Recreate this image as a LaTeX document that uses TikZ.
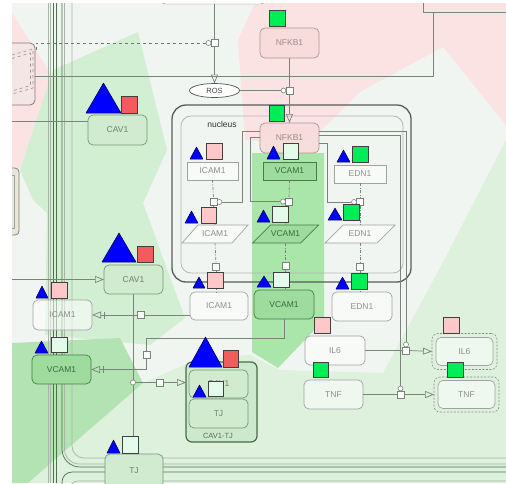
\documentclass[tikz,border=0pt]{standalone}
\usepackage{fontspec}
\setmainfont{Liberation Sans}
\usetikzlibrary{arrows.meta,calc,shapes.geometric}
\definecolor{bgbase}{HTML}{F1F5F1}
\definecolor{bgpink}{HTML}{FCE3E3}
\definecolor{bgga}{HTML}{D3EFD3}
\definecolor{bggb}{HTML}{B3E3B3}
\definecolor{bggc}{HTML}{DDF1DD}
\definecolor{bgcol}{HTML}{AAE5AA}
\definecolor{lnc}{HTML}{7A857A}
\definecolor{darkc}{HTML}{4F6F4F}
\definecolor{lightc}{HTML}{A9B5A9}
\definecolor{txtg}{HTML}{8E8E8E}
\definecolor{txtdg}{HTML}{3E6A3E}
\definecolor{txtp}{HTML}{A08C8C}
\definecolor{txtcav}{HTML}{6A826A}
\definecolor{nodegray}{HTML}{A2A2A2}
\definecolor{greenbd}{HTML}{4A7A4A}
\definecolor{greenfill}{HTML}{9DDC9D}
\definecolor{pinkbd}{HTML}{B09494}
\definecolor{pinkfill}{HTML}{F8DADA}
\definecolor{cavbd}{HTML}{779777}
\definecolor{cavfill}{HTML}{D0EBD0}
\definecolor{sqpink}{HTML}{FFC8C8}
\definecolor{sqred}{HTML}{F25C5C}
\definecolor{sqgreen}{HTML}{00EE55}
\definecolor{sqpale}{HTML}{E4FBEC}
\definecolor{triblue}{HTML}{0000FF}
\newcommand{\mytri}[4]{\filldraw[trist] (#1,#4) -- (#3,#4) -- ({(#1+#3)/2},#2) -- cycle;}
\newcommand{\mysq}[5]{\filldraw[sqst,fill=#5] (#1,#2) rectangle (#3,#4);}
\begin{document}
\begin{tikzpicture}[x=1pt,y=-1pt,
 base/.style={inner sep=0pt, outer sep=0pt, font=\fontsize{8.5}{10}\selectfont, text opacity=1},
 sz/.style 2 args={minimum width=#1pt, minimum height=#2pt},
 palen/.style={base, rounded corners=5pt, draw=nodegray, line width=0.7pt, fill=white, fill opacity=0.55, text=txtg},
 gene/.style={base, draw=nodegray, line width=0.7pt, fill=white, fill opacity=0.55, text=txtg},
 greeng/.style={base, draw=greenbd, line width=0.7pt, fill=greenfill, text=txtdg},
 greenn/.style={base, rounded corners=5pt, draw=greenbd, line width=0.7pt, fill=greenfill, text=txtdg},
 pinkn/.style={base, rounded corners=5pt, draw=pinkbd, line width=0.7pt, fill=pinkfill, fill opacity=0.85, text=txtp},
 cavn/.style={base, rounded corners=5pt, draw=cavbd, line width=0.7pt, fill=cavfill, text=txtcav},
 port/.style={draw=lnc, fill=white, minimum size=7pt, inner sep=0pt, line width=0.6pt},
 circ/.style={draw=lnc, fill=white, circle, minimum size=5pt, inner sep=0pt, line width=0.6pt},
 conn/.style={draw=lnc, line width=0.7pt},
 arr/.style={conn, -{Triangle[open, length=9pt, width=7pt]}},
 dd/.style={draw=lnc, line width=0.7pt, dash pattern=on 3pt off 1.5pt on 1pt off 1.5pt},
 mrna/.style={draw=nodegray, fill=white, fill opacity=0.55, line width=0.7pt},
 mrnag/.style={draw=greenbd, fill=greenfill, line width=0.7pt},
 trist/.style={fill=triblue, draw=black!70!blue, line width=0.5pt, line join=round},
 sqst/.style={draw=black!75, line width=0.6pt},
 dl/.style={draw=darkc, line width=0.7pt},
 ll/.style={draw=lightc, line width=0.7pt}]
\useasboundingbox (0,0) rectangle (506,483);
\fill[white] (0,0) rectangle (506,483);
\begin{scope}
\clip (12,3) rectangle (506,483);
% background regions
\fill[bgbase] (12,3) rectangle (506,483);
\fill[bgpink] (255,3) -- (506,3) -- (506,125) -- (443,47) -- (360,92) -- (313,138) -- (300,145) -- (245,140) -- (238,40) -- cycle;
\fill[bgpink] (12,13) -- (53,77) -- (20,168) -- (12,168) -- cycle;
\fill[bgga] (53,70) -- (138,32) -- (167,150) -- (143,203) -- (185,318) -- (150,345) -- (45,335) -- (47,213) -- (33,200) -- (20,170) -- cycle;
\fill[bggc] (506,140) -- (440,268) -- (383,373) -- (280,370) -- (250,355) -- (200,358) -- (143,383) -- (28,483) -- (506,483) -- cycle;
\fill[bggb] (12,343) -- (120,338) -- (143,383) -- (28,483) -- (12,483) -- cycle;
\fill[bgcol] (252,153) -- (324,153) -- (324,320) -- (278,368) -- (252,352) -- cycle;
% compartment lines
\draw[ll] (48,0) -- (48,483);
\draw[ll] (50.5,0) -- (50.5,483);
\draw[dl] (53.5,0) -- (53.5,483);
\draw[dl] (56,0) -- (56,483);
\draw[dl, rounded corners=18pt] (62,0) -- (62,467) -- (506,467);
\draw[ll, rounded corners=15pt] (64.5,0) -- (64.5,464) -- (506,464);
\draw[ll, rounded corners=12pt] (72,0) -- (72,458) -- (506,458);
\draw[dl, rounded corners=10pt] (62,495) -- (62,472) -- (506,472);
\draw[ll, rounded corners=8pt] (70,495) -- (70,481) -- (506,481);
% top and left boxes
\node[base, rounded corners=5pt, draw=lnc, fill=white, sz={106}{24}] (TB) at (213,-8) {};
\node[base, draw=lnc, sz={94}{32}] (TR) at (470,-4) {};
\coordinate (trx) at (433,0);
\node[base, rounded corners=5pt, draw={rgb,255:red,140;green,118;blue,118}, line width=0.8pt, fill={rgb,255:red,245;green,230;blue,230}, sz={45}{62}] (TLB) at (12.5,74) {};
\draw[dashed, draw={rgb,255:red,160;green,144;blue,144}, line width=0.6pt] (12,55) -- (33,49) -- (33,88) -- (12,94);
\draw[dashed, draw={rgb,255:red,160;green,144;blue,144}, line width=0.6pt] (12,58.5) -- (30.5,53) -- (30.5,85.5) -- (12,91);
\node[base, rounded corners=4pt, draw={rgb,255:red,128;green,128;blue,112}, line width=0.8pt, fill={rgb,255:red,233;green,231;blue,218}, sz={29}{67}] (TLBb) at (4.5,201.5) {};
\draw[draw=nodegray, line width=0.6pt] (0,175) -- (14,175) -- (14,228) -- (0,228);
% nucleus
\node[base, rounded corners=14pt, draw={rgb,255:red,90;green,90;blue,90}, line width=1.3pt, sz={239}{177}] (nuc) at (291.5,193.5) {};
\node[base, rounded corners=10pt, draw={rgb,255:red,181;green,181;blue,181}, line width=0.8pt, sz={222}{157}] (nuci) at (292,194.5) {};
\node[base, text={rgb,255:red,51;green,51;blue,51}] (nucl) at (222,124.5) {nucleus};
% ROS and NFKB1
\node[base, ellipse, draw={rgb,255:red,85;green,85;blue,85}, fill=white, line width=0.7pt, sz={50}{14}, font=\fontsize{7.5}{9}\selectfont, text={rgb,255:red,68;green,68;blue,68}] (ROS) at (214.5,90.5) {ROS};
\node[pinkn, sz={59}{30}] (NFt) at (289.5,43) {NFKB1};
\node[pinkn, sz={59}{30}] (NFn) at (289.5,138) {NFKB1};
% genes
\node[gene, sz={51}{18}] (gI) at (212.5,171) {ICAM1};
\node[greeng, sz={53}{18}] (gV) at (289.5,171) {VCAM1};
\node[gene, sz={52}{18}] (gE) at (360,174) {EDN1};
% mRNA
\coordinate (mIc) at (215,234);
\coordinate (mVc) at (285.5,234);
\coordinate (mEc) at (360,234);
\draw[mrna] ($(mIc)+(-33,9)$) -- ($(mIc)+(-17,-9)$) -- ($(mIc)+(33,-9)$) -- ($(mIc)+(17,9)$) -- cycle;
\draw[mrnag] ($(mVc)+(-33,9)$) -- ($(mVc)+(-15,-9)$) -- ($(mVc)+(33,-9)$) -- ($(mVc)+(15,9)$) -- cycle;
\draw[mrna] ($(mEc)+(-35,9)$) -- ($(mEc)+(-17,-9)$) -- ($(mEc)+(35,-9)$) -- ($(mEc)+(17,9)$) -- cycle;
\node[base, text=txtg] (mI) at (mIc) {ICAM1};
\node[base, text=txtdg] (mV) at (mVc) {VCAM1};
\node[base, text=txtg] (mE) at (mEc) {EDN1};
% ports in nucleus
\node[port] (pI1) at (213.5,202) {};
\node[circ] (cI) at (219.5,202) {};
\node[port] (pV1) at (289,201.5) {};
\node[circ] (cV) at (283,201.5) {};
\node[port] (pE1) at (360,202) {};
\node[circ] (cE) at (354,202) {};
\node[port] (pI2) at (216,267) {};
\node[port] (pV2) at (285.5,266) {};
\node[port] (pE2) at (360,266.5) {};
% proteins
\node[palen, sz={58}{28}] (cIc) at (219,306) {ICAM1};
\node[greenn, sz={60}{29}] (cVc) at (284,304.5) {VCAM1};
\node[palen, sz={60}{29}] (cEc) at (362,306.5) {EDN1};
\node[cavn, sz={59}{30}] (CAVa) at (117.5,130) {CAV1};
\node[cavn, sz={59}{29}] (CAVb) at (133.5,279.5) {CAV1};
\node[palen, sz={59}{30}] (IL) at (62.5,315) {ICAM1};
\node[greenn, sz={59}{29}] (VL) at (61.5,369.5) {VCAM1};
\node[base, rounded corners=6pt, draw={rgb,255:red,74;green,106;blue,74}, line width=1.2pt, fill={rgb,255:red,205;green,233;blue,205}, sz={71}{80}] (CT) at (221.5,402) {};
\node[cavn, sz={59}{28}] (CTc) at (218.5,384) {CAV1};
\node[cavn, sz={59}{29}] (CTt) at (218.5,413.5) {TJ};
\node[base, font=\fontsize{7.5}{9}\selectfont, text={rgb,255:red,90;green,106;blue,90}] (CTl) at (218,435.5) {CAV1-TJ};
\node[cavn, sz={58}{34}] (TJ) at (134,471) {TJ};
\node[palen, sz={60}{29}] (IL6a) at (335,350.5) {IL6};
\node[base, rounded corners=6pt, draw={rgb,255:red,140;green,140;blue,140}, dash pattern=on 2pt off 1.5pt, line width=0.6pt, sz={65}{36}] (IL6b) at (464.5,351.5) {};
\node[palen, sz={57}{28}] (IL6bi) at (464.5,351.5) {IL6};
\node[palen, sz={59}{29}] (TNFa) at (333.5,394.5) {TNF};
\node[base, rounded corners=6pt, draw={rgb,255:red,140;green,140;blue,140}, dash pattern=on 2pt off 1.5pt, line width=0.6pt, sz={65}{35}] (TNFb) at (466.5,394.5) {};
\node[palen, sz={57}{28}] (TNFbi) at (466.5,394.5) {TNF};
% outer ports
\node[port] (pR) at (214.5,43) {};
\node[circ] (cR) at (208.5,43) {};
\node[port] (pN) at (289.5,90.5) {};
\node[circ] (cN) at (283.5,90.5) {};
\node[port] (pIc) at (140.5,315) {};
\node[port] (pV) at (146.5,354.5) {};
\node[circ] (jn) at (133,382.5) {};
\node[port] (pCT) at (159.5,382.5) {};
\node[port] (pIL) at (406,350.5) {};
\node[circ] (cIL) at (406,344.5) {};
\node[port] (pT) at (400.5,394.5) {};
\node[circ] (cT) at (400.5,388.5) {};
\coordinate (srcA) at (0,121);
\coordinate (srcB) at (0,279.5);
% connectors
\draw[conn] (TB.south -| pR) -- (pR.north);
\draw[dashed, draw={rgb,255:red,119;green,119;blue,119}, line width=0.7pt] ($(TLB.north east)+(1,7)$) -- ($(TLB.north east)+(1,0)$) -- (cR.west);
\draw[arr] (pR.south) -- (ROS.north);
\draw[conn] (ROS.east) -- (cN.west);
\draw[conn] (NFt.south) -- (pN.north);
\draw[arr] (pN.south) -- (NFn.north);
\draw[conn] (TR.south -| trx) |- ($(TLB.east)+(0,2)$);
\draw[conn] (srcA) -- (srcA -| CAVa.west);
\draw[arr] (srcB) -- (CAVb.west);
\draw[conn] ($(NFn.west)+(0,-7)$) -| ($(cI.east)+(20,0)$) -- (cI.east);
\draw[conn] ($(NFn.west)+(0,-1)$) -| ($(cV.west)+(-30,0)$) -- (cV.west);
\draw[conn] ($(NFn.east)+(0,5)$) -| ($(cE.west)+(-24,0)$) -- (cE.west);
\draw[conn] ($(NFn.east)+(0,-7)$) -| (cIL.north);
\draw[conn] ($(NFn.east)+(0,-3)$) -| (cT.north);
\draw[dd] (gI.south) -- (pI1.north);
\draw[dd] (pI1.south) -- ($(mIc)+(0,-9)$);
\draw[dd] ($(mIc)+(0,9)$) -- (pI2.north);
\draw[dd] (pI2.south) -- (cIc.north -| pI2);
\draw[dd] (gV.south) -- (pV1.north);
\draw[dd] (pV1.south) -- ($(mVc)+(0,-9)$);
\draw[dd] ($(mVc)+(0,9)$) -- (pV2.north);
\draw[dd] (pV2.south) -- (cVc.north -| pV2);
\draw[dd] (gE.south) -- (pE1.north);
\draw[dd] (pE1.south) -- ($(mEc)+(0,-9)$);
\draw[dd] ($(mEc)+(0,9)$) -- (pE2.north);
\draw[dd] (pE2.south) -- (cEc.north -| pE2);
\draw[conn] (pIc.east) -- (pIc.east -| cIc.west);
\draw[arr] (pIc.west) -- (pIc.west -| IL.east);
\draw[conn] ($(IL.east)+(12,-3.5)$) -- ($(IL.east)+(12,3.5)$);
\draw[conn] (cVc.south) -- ++(0,19) -| (pV.north);
\draw[arr] (pV.south) |- (VL.east);
\draw[conn] ($(VL.east)+(12,-3.5)$) -- ($(VL.east)+(12,3.5)$);
\draw[conn] (CAVb.south -| jn) -- (jn.north);
\draw[conn] (TJ.north -| jn) -- (jn.south);
\draw[conn] (jn.east) -- (pCT.west);
\draw[arr] (pCT.east) -- (pCT.east -| CT.west);
\draw[conn] (IL6a.east) -- (pIL.west);
\draw[arr] (pIL.east) -- (IL6b.west);
\draw[conn] (TNFa.east) -- (pT.west);
\draw[arr] (pT.east) -- (TNFb.west);
% glyphs
\mysq{269}{10}{285}{26}{sqgreen}
\mysq{269}{105}{284}{121}{sqgreen}
\mytri{86}{83}{121}{113}\mysq{121}{96}{137}{113}{sqred}
\mytri{190}{147}{203}{159}\mysq{206}{143}{222}{159}{sqpink}
\mytri{267}{146}{280}{159}\mysq{283}{143}{298}{159}{sqpale}
\mytri{337}{150}{350}{162}\mysq{352}{146}{368}{162}{sqgreen}
\mytri{185}{211}{198}{223}\mysq{201}{207}{216}{223}{sqpink}
\mytri{257}{210}{270}{222}\mysq{272}{206}{288}{222}{sqpale}
\mytri{328}{208}{342}{220}\mysq{343}{204}{359}{220}{sqgreen}
\mytri{193}{277}{205}{288}\mysq{207}{272}{223}{288}{sqpink}
\mytri{257}{276}{271}{287}\mysq{273}{272}{289}{287}{sqpale}
\mytri{336}{277}{349}{289}\mysq{351}{273}{367}{289}{sqgreen}
\mytri{102}{233}{136}{262}\mysq{137}{246}{153}{262}{sqred}
\mytri{36}{286}{48}{298}\mysq{51}{282}{67}{298}{sqpink}
\mytri{35}{341}{48}{353}\mysq{51}{337}{67}{352}{sqpale}
\mytri{189}{337}{222}{367}\mysq{223}{350}{238}{367}{sqred}
\mytri{193}{385}{206}{397}\mysq{208}{381}{223}{396}{sqpale}
\mytri{107}{440}{120}{453}\mysq{122}{436}{138}{453}{sqpale}
\mysq{314}{317}{330}{333}{sqpink}
\mysq{443}{317}{459}{333}{sqpink}
\mysq{313}{362}{328}{377}{sqgreen}
\mysq{447}{362}{463}{377}{sqgreen}
\end{scope}
\end{tikzpicture}
\end{document}
